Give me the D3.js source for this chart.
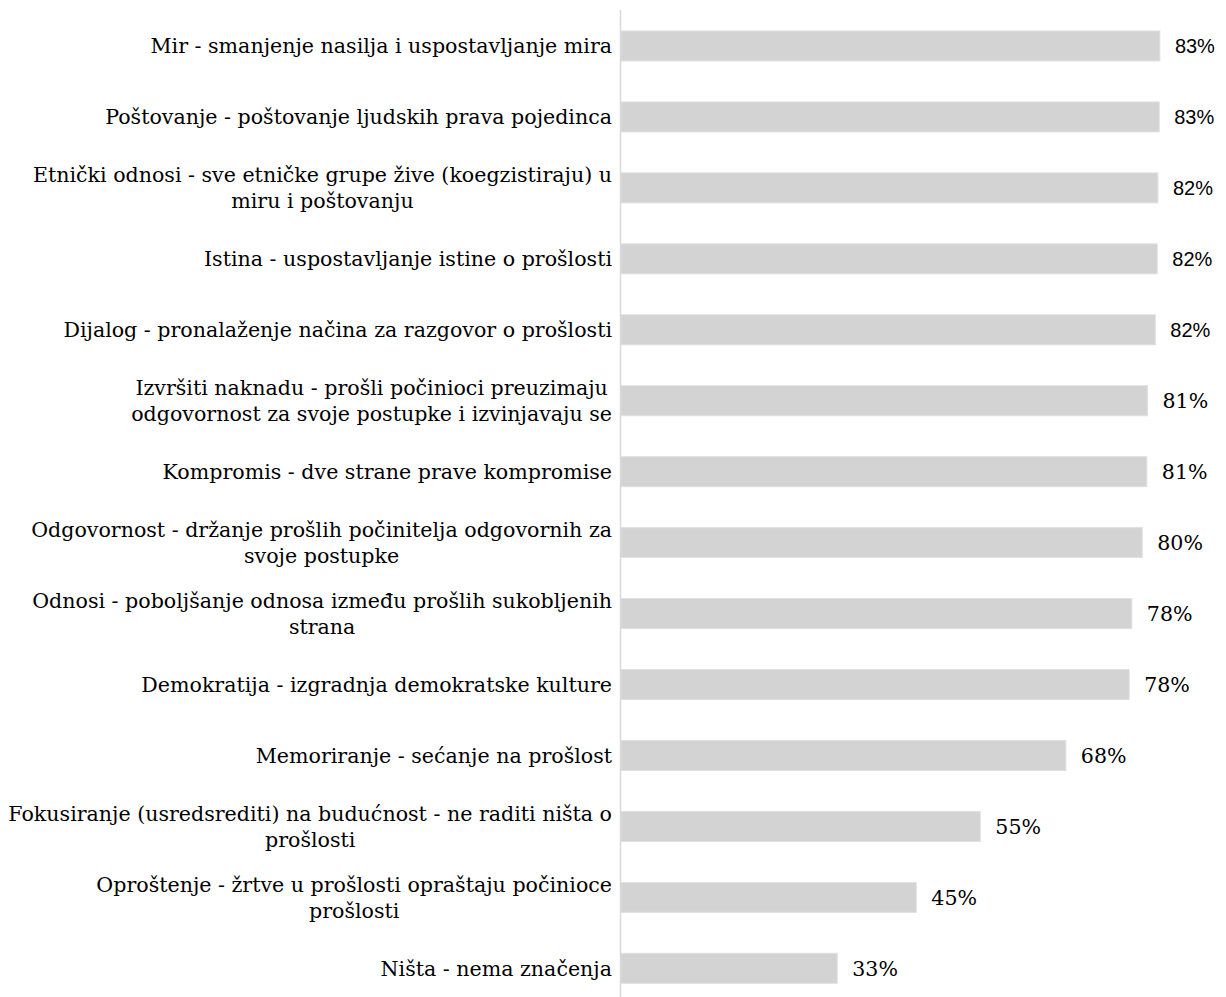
<!DOCTYPE html>
<html>
<head>
<meta charset="utf-8">
<script src="https://cdn.jsdelivr.net/npm/d3@7"></script>
<style>
	body { margin: 0; background: #fff; }
	svg { display: block; }
</style>
</head>
<body>
<div id="charts"></div>
<script>
// categories, line breaks as in the original chart
var categories = [
	"Mir - smanjenje nasilja i uspostavljanje mira",
	"Poštovanje - poštovanje ljudskih prava pojedinca",
	"Etnički odnosi - sve etničke grupe žive (koegzistiraju) u\nmiru i poštovanju",
	"Istina - uspostavljanje istine o prošlosti",
	"Dijalog - pronalaženje načina za razgovor o prošlosti",
	"Izvršiti naknadu - prošli počinioci preuzimaju\nodgovornost za svoje postupke i izvinjavaju se",
	"Kompromis - dve strane prave kompromise",
	"Odgovornost - držanje prošlih počinitelja odgovornih za\nsvoje postupke",
	"Odnosi - poboljšanje odnosa između prošlih sukobljenih\nstrana",
	"Demokratija - izgradnja demokratske kulture",
	"Memoriranje - sećanje na prošlost",
	"Fokusiranje (usredsrediti) na budućnost - ne raditi ništa o\nprošlosti",
	"Oproštenje - žrtve u prošlosti opraštaju počinioce\nprošlosti",
	"Ništa - nema značenja"
];
var values = [82.6, 82.5, 82.3, 82.2, 81.9, 80.7, 80.6, 79.9, 78.3, 77.9, 68.2, 55.1, 45.3, 33.2];

var width = 1226, height = 997;
var axisX = 620.5;

var svg = d3.select("#charts").append("svg")
	.attr("width", width)
	.attr("height", height);

var x = d3.scaleLinear().domain([0, 100]).range([axisX, axisX + 653]);
var y = d3.scaleBand()
	.domain(d3.range(categories.length))
	.range([10.5, 1003.8])
	.paddingInner(0.577)
	.paddingOuter(0.2885);

svg.selectAll("rect.bar")
	.data(values)
	.enter()
	.append("rect")
	.attr("class", "bar")
	.attr("x", x(0))
	.attr("y", function (d, i) { return y(i); })
	.attr("width", function (d) { return x(d) - x(0); })
	.attr("height", y.bandwidth())
	.attr("fill", "#d3d3d3")
	.attr("stroke", "#e0e0e0")
	.attr("stroke-width", 1);

// vertical category axis line
svg.append("line")
	.attr("x1", axisX).attr("x2", axisX)
	.attr("y1", 10).attr("y2", height)
	.attr("stroke", "#d9d9d9")
	.attr("stroke-width", 1.5);

var serif = "'DejaVu Serif', serif";
var sans = "'Liberation Sans', Arial, sans-serif";

function measure(str, size) {
	var t = svg.append("text")
		.style("font-family", serif)
		.style("font-size", size + "px")
		.text(str);
	var w = t.node().getComputedTextLength();
	t.remove();
	return w;
}

// fit serif size to the original's widths: first label ~472px, widest line ~604px
var fs = Math.min(
	20 * 472 / measure(categories[0], 20),
	20 * 604 / measure(categories[11].split("\n")[0], 20)
);

// category labels: block right-aligned, lines centred within the block
var labelRight = 612;
var lineH = 26;
categories.forEach(function (c, i) {
	var lines = c.split("\n");
	var cy = y(i) + y.bandwidth() / 2;
	var top = cy - (lines.length - 1) * lineH / 2;
	var maxW = d3.max(lines, function (l) { return measure(l, fs); });
	lines.forEach(function (l, j) {
		svg.append("text")
			.attr("x", lines.length > 1 ? labelRight - maxW / 2 : labelRight)
			.attr("y", top + j * lineH)
			.attr("dy", "0.35em")
			.attr("text-anchor", lines.length > 1 ? "middle" : "end")
			.style("font-family", serif)
			.style("font-size", fs + "px")
			.attr("fill", "#000")
			.text(l);
	});
});

// value labels
svg.selectAll("text.val")
	.data(values)
	.enter()
	.append("text")
	.attr("class", "val")
	.attr("x", function (d) { return x(d) + 15; })
	.attr("y", function (d, i) { return y(i) + y.bandwidth() / 2; })
	.attr("dy", "0.35em")
	.style("font-family", function (d, i) { return i < 5 ? sans : serif; })
	.style("font-size", function (d, i) { return i < 5 ? "20px" : fs + "px"; })
	.attr("fill", "#000")
	.text(function (d) { return Math.round(d) + "%"; });
</script>
</body>
</html>
